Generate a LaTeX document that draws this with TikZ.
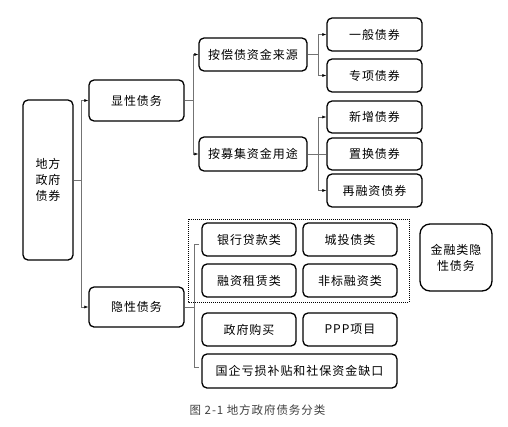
\documentclass[tikz,border=0pt]{standalone}
\usepackage{fontspec}
\newfontfamily\zhfont[LetterSpace=8]{Noto Sans CJK SC}
\usetikzlibrary{arrows.meta,calc}

\begin{document}
\begin{tikzpicture}[x=1pt, y=-1pt,
    box/.style={draw, line width=1.3pt, rounded corners=5pt, align=center,
        inner sep=0pt, font=\zhfont\fontsize{12}{16}\selectfont},
    conn/.style={draw=black!55, line width=0.6pt},
    tip/.style={-{Latex[black,length=4pt,width=3pt]}}]

    \useasboundingbox (0,0) rectangle (508,426);

    % root
    \node [box, minimum width=50, minimum height=160] (dfzf) at (48,180) {地方\\政府\\债券};

    % first level
    \node [box, minimum width=95, minimum height=41] (xxzw) at (136.5,100.5) {显性债务};
    \node [box, minimum width=95, minimum height=40] (yxzw) at (136.5,307) {隐性债务};

    \draw [conn] (dfzf.east) -- ++(8,0) coordinate (j0);
    \draw [conn, tip] (j0) |- (xxzw.west);
    \draw [conn, tip] (j0) |- (yxzw.west);

    % explicit debt
    \node [box, minimum width=108, minimum height=33] (ly) at (253,54.5) {按偿债资金来源};
    \node [box, minimum width=108, minimum height=34] (yt) at (253,154) {按募集资金用途};

    \draw [conn] (xxzw.east) -- ++(9,0) coordinate (j1);
    \draw [conn, tip] (j1) |- (ly.west);
    \draw [conn, tip] (j1) |- (yt.west);

    \node [box, minimum width=95, minimum height=33] (ybzq) at (374.5,34.5) {一般债券};
    \node [box, minimum width=95, minimum height=33] (zxzq) at (374.5,75.5) {专项债券};
    \node [box, minimum width=95, minimum height=32] (xzzq) at (374.5,117) {新增债券};
    \node [box, minimum width=95, minimum height=32] (zhzq) at (374.5,154) {置换债券};
    \node [box, minimum width=95, minimum height=33] (rrzq) at (374.5,190.5) {再融资债券};

    \draw [conn] (ly.east) -- ++(11,0) coordinate (j2);
    \draw [conn, tip] (j2) |- (ybzq.west);
    \draw [conn, tip] (j2) |- (zxzq.west);

    \draw [conn] (yt.east) -- (zhzq.west);
    \coordinate (j3) at ($(yt.east)+(11,0)$);
    \draw [conn, tip] (j3) |- (xzzq.west);
    \draw [conn, tip] (j3) |- (rrzq.west);

    % implicit debt
    \node [box, minimum width=94, minimum height=33] (yhdk) at (249,239.5) {银行贷款类};
    \node [box, minimum width=94, minimum height=33] (ctzl) at (350,239.5) {城投债类};
    \node [box, minimum width=94, minimum height=33] (rzzl) at (249,280.5) {融资租赁类};
    \node [box, minimum width=94, minimum height=33] (fbrz) at (350,280.5) {非标融资类};
    \node [box, minimum width=94, minimum height=33] (zfgm) at (249,329.5) {政府购买};
    \node [box, minimum width=94, minimum height=33] (pppx) at (350,329.5) {PPP项目};
    \node [box, minimum width=195, minimum height=34] (gqks) at (299.5,371) {国企亏损补贴和社保资金缺口};

    \draw [densely dotted, line width=1pt] (188,219) rectangle (409,302);

    \node [box, rounded corners=10pt, minimum width=72, minimum height=67] (jrl) at (456,257.5) {金融类隐\\性债务};

    \draw [conn] (yxzw.east) -- ++(10,0) coordinate (j4);
    \draw [conn] ($(yhdk.west)+(-2,4.5)$) -| (j4) |- ($(gqks.west)+(-2,-4)$);

    % caption
    \node [font=\zhfont\fontsize{11.5}{14}\selectfont, text=black!75] (cap) at (257.5,410) {图 2-1 地方政府债务分类};

\end{tikzpicture}
\end{document}
